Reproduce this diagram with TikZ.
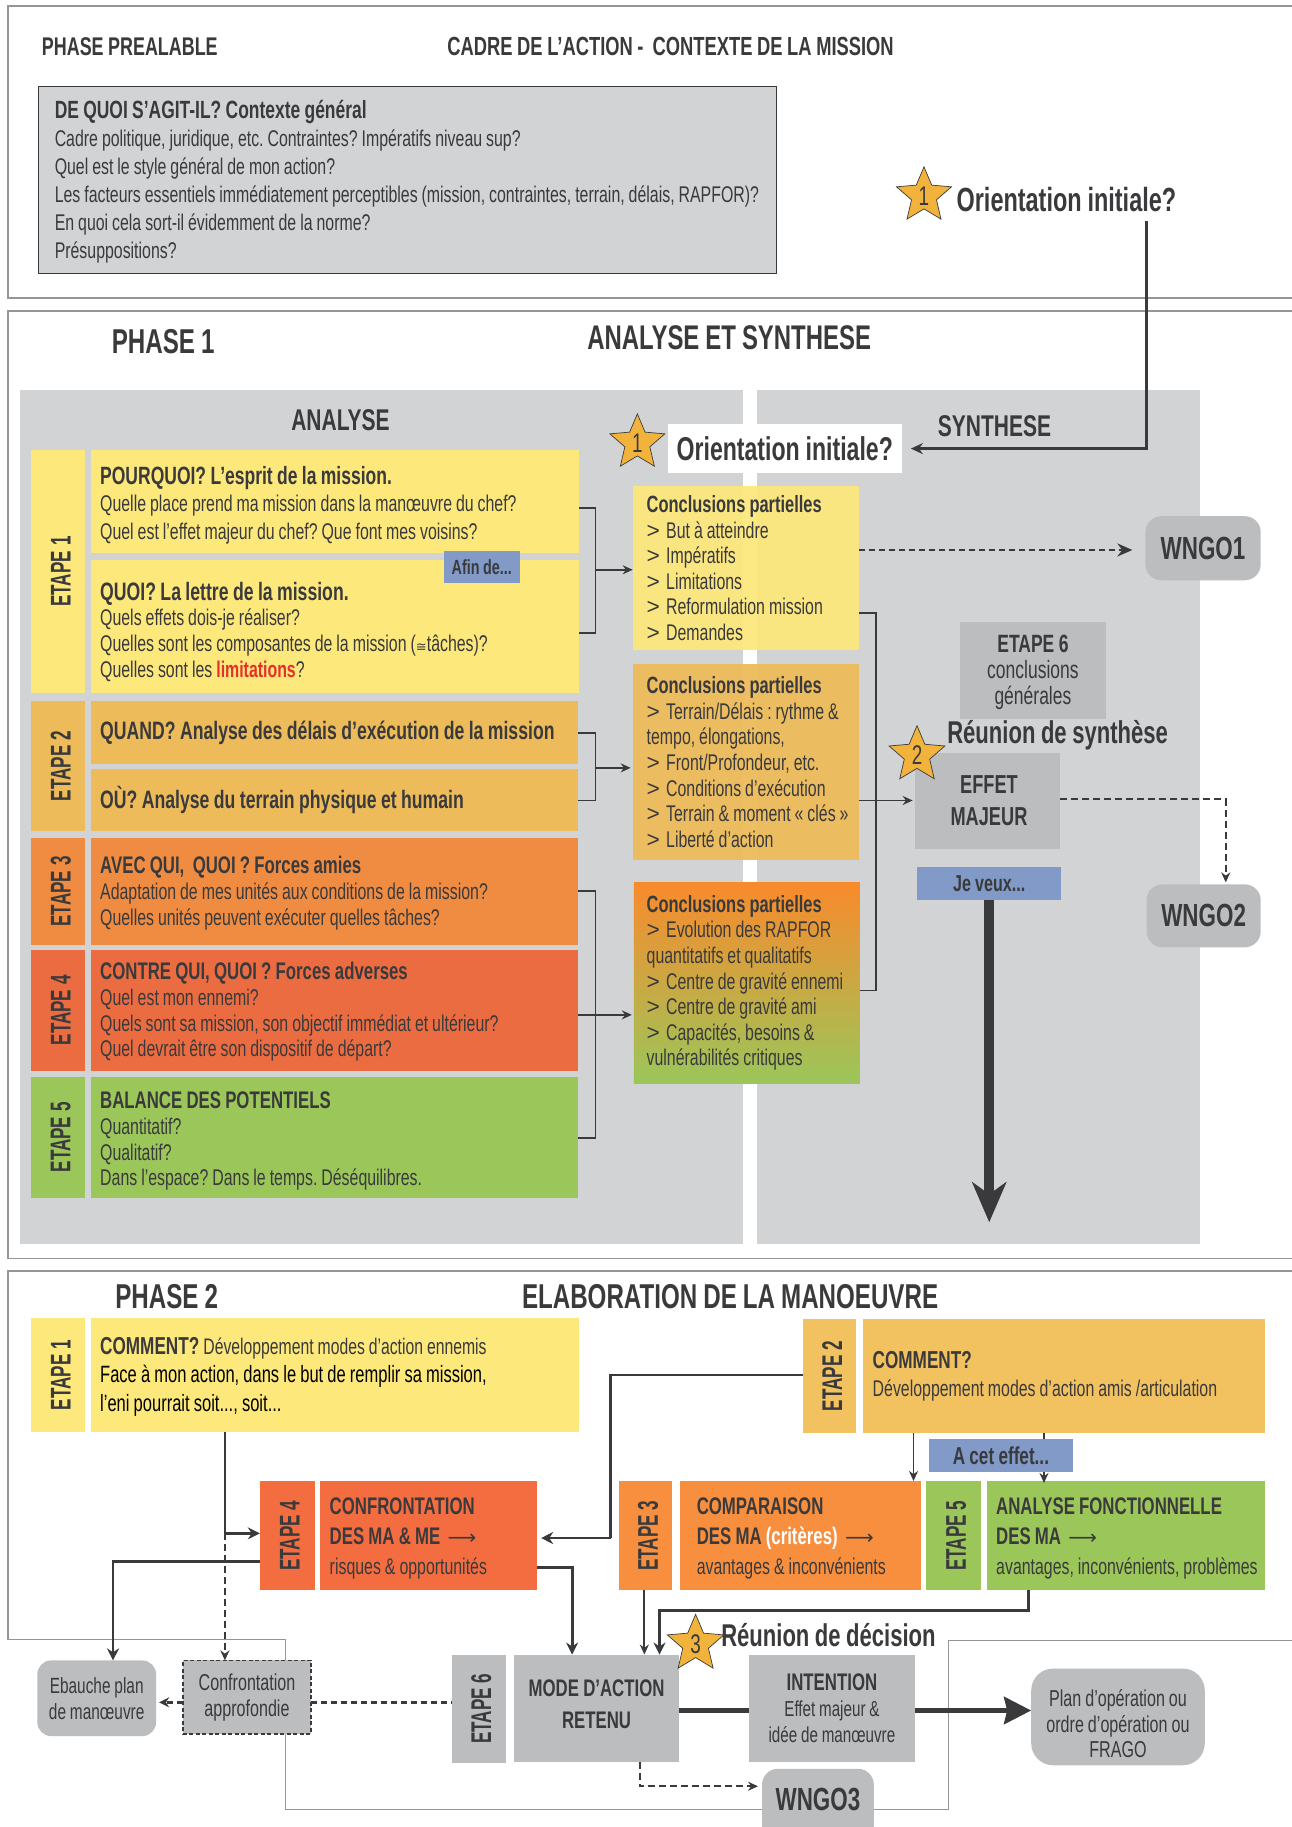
\documentclass[tikz,border=0pt]{standalone}
\usepackage{fontspec}
\setmainfont{Liberation Sans}[FakeStretch=0.70]
\newfontfamily\djv{DejaVu Sans}
\newfontfamily\lbr{Liberation Sans}
\newfontfamily\etf{Liberation Sans}[FakeStretch=0.60]
\usetikzlibrary{arrows.meta,shapes.geometric,calc}
\definecolor{cyel}{HTML}{FDE87C}
\definecolor{camb}{HTML}{EDBB59}
\definecolor{camc}{HTML}{F2C261}
\definecolor{cora}{HTML}{EF8C41}
\definecolor{corb}{HTML}{F78F3F}
\definecolor{cred}{HTML}{EC6C41}
\definecolor{creb}{HTML}{F46D41}
\definecolor{cgre}{HTML}{9BC65A}
\definecolor{cbg}{HTML}{D1D3D4}
\definecolor{cbox}{HTML}{BBBDBF}
\definecolor{cblu}{HTML}{829AC8}
\definecolor{cfra}{HTML}{939598}
\definecolor{ctxt}{HTML}{3A3A3C}
\definecolor{cstar}{HTML}{F2B33D}
\definecolor{climr}{HTML}{E4312B}
\frenchspacing
\newcommand\unitk{1.16516}
\newcommand\fs[2]{\fontsize{#1}{#2}\selectfont\spaceskip=0.175em\xspaceskip=0.175em\relax}
\newcommand\gtm{\makebox[19.5pt][l]{\lbr\textgreater}}
\newcommand\vsh[1]{\rule{0pt}{\dimexpr17pt+#1pt\relax}}
% name x1 y1 x2 y2 style pad text : left aligned
\newcommand\bx[8]{%
  \pgfmathsetmacro\cxx{(#2+#4)/2}\pgfmathsetmacro\cyy{(#3+#5)/2}%
  \pgfmathsetmacro\www{(#4-#2)*\unitk}\pgfmathsetmacro\hhh{(#5-#3)*\unitk}%
  \pgfmathsetmacro\ppp{#7*\unitk}%
  \node[boxn,#6,minimum width=\www pt,minimum height=\hhh pt,text width=\www pt,align=left] (#1) at (\cxx,\cyy) {{\leftskip=\ppp pt\relax\spaceskip=0.175em\xspaceskip=0.175em\relax #8\par}};}
% centred
\newcommand\cbx[7]{%
  \pgfmathsetmacro\cxx{(#2+#4)/2}\pgfmathsetmacro\cyy{(#3+#5)/2}%
  \pgfmathsetmacro\www{(#4-#2)*\unitk}\pgfmathsetmacro\hhh{(#5-#3)*\unitk}%
  \node[boxn,#6,minimum width=\www pt,minimum height=\hhh pt,text width=\www pt,align=center] (#1) at (\cxx,\cyy) {\spaceskip=0.175em\xspaceskip=0.175em\relax #7};}
\newcommand\etp[7]{\cbx{#1}{#2}{#3}{#4}{#5}{fill=#6,font=\etf\fs{28.5}{28}\bfseries}{\hspace*{5pt}\rotatebox{90}{#7}}}
\newcommand\arw{{\fontspec{DejaVu Sans}\fontsize{20}{20}\selectfont\,⟶}}
\tikzset{
  boxn/.style={inner sep=0pt,outer sep=0pt,text=ctxt,font=\fs{22.7}{25.6}},
  lab/.style={inner sep=0pt,outer sep=0pt,text=ctxt,anchor=west},
  frm/.style={draw=cfra,line width=1.6pt},
  con/.style={draw=ctxt,line width=1.8pt},
  conk/.style={draw=ctxt,line width=2.8pt},
  arr/.style={con,-{Stealth[length=10pt,width=9pt]}},
  arrk/.style={conk,-{Stealth[length=12pt,width=12pt]}},
  dsh/.style={draw=ctxt,line width=2.6pt,dash pattern=on 6pt off 4pt},
  dsht/.style={draw=ctxt,line width=1.8pt,dash pattern=on 7pt off 4pt},
  stn/.style={star,star points=5,star point ratio=2.2,fill=cstar,draw=ctxt,line width=.7pt,minimum size=45pt,inner sep=0pt,text=ctxt,font=\fs{27}{27}},
  wng/.style={fill=cbox,rounded corners=16pt,font=\fs{32}{32}\bfseries}
}
\begin{document}
\begin{tikzpicture}[x=1.16516pt,y=-1.16516pt]
\useasboundingbox (0,0) rectangle (1108,1568);
\fill[white] (0,0) rectangle (1108,1568);
% frames
\draw[frm] (1120,5) -- (7,5) -- (7,256) -- (1120,256);
\draw[frm] (1120,267) -- (7,267) -- (7,1080) -- (1120,1080);
\draw[frm] (1120,1091) -- (7,1091) -- (7,1407) -- (245,1407) -- (245,1553) -- (814,1553) -- (814,1408) -- (1120,1408);
% grey panels
\fill[cbg] (17,335) rectangle (638,1068);
\fill[cbg] (650,335) rectangle (1030,1068);
% titles
\node[lab,font=\fs{25.6}{26}\bfseries] (tprea) at (36,40) {PHASE PREALABLE};
\node[lab,font=\fs{26.2}{26}\bfseries] (tcadre) at (384,40) {CADRE DE L’ACTION -\ \ CONTEXTE DE LA MISSION};
\node[lab,font=\fs{34.5}{34}\bfseries] (tph1) at (96,293) {PHASE 1};
\node[lab,font=\fs{34.2}{34}\bfseries] (tana) at (504,290) {ANALYSE ET SYNTHESE};
\node[lab,font=\fs{30}{30}\bfseries] (tanalyse) at (250,361) {ANALYSE};
\node[lab,font=\fs{30}{30}\bfseries] (tsyn) at (805,366) {SYNTHESE};
\node[lab,font=\fs{34.5}{34}\bfseries] (tph2) at (99,1113) {PHASE 2};
\node[lab,font=\fs{34.5}{34}\bfseries] (telab) at (448,1113) {ELABORATION DE LA MANOEUVRE};
% context
\bx{ctx}{33}{74}{666}{235}{fill=cbg,draw=ctxt,line width=.9pt,font=\fs{22.7}{28}}{14}{\vsh{4}\textbf{\fs{24.9}{28}DE QUOI S’AGIT-IL? Contexte général}\\
Cadre politique, juridique, etc. Contraintes? Impératifs niveau sup?\\
Quel est le style général de mon action?\\
Les facteurs essentiels immédiatement perceptibles (mission, contraintes, terrain, délais, RAPFOR)?\\
En quoi cela sort-il évidemment de la norme?\\
Présuppositions?}
\node[stn] (st1a) at (793,168) {1};
\node[lab,font=\fs{33.5}{30}\bfseries] (orienta) at (821,171) {Orientation initiale?};
% phase 1
\cbx{orientb}{573}{364}{774}{406}{fill=white,font=\fs{33}{30}\bfseries}{Orientation initiale?}
\node[stn] (st1b) at (547,380) {1};
\etp{e1}{27}{386}{73}{595}{cyel}{ETAPE 1}
\bx{pourquoi}{78}{386}{497}{475}{fill=cyel,font=\fs{22.7}{27.5}}{8}{\vsh{8}\textbf{\fs{25}{28}POURQUOI? L’esprit de la mission.}\\
Quelle place prend ma mission dans la manœuvre du chef?\\
Quel est l’effet majeur du chef? Que font mes voisins?}
\bx{quoi}{78}{481}{497}{595}{fill=cyel}{8}{\vsh{11}\textbf{\fs{25.2}{25.6}QUOI? La lettre de la mission.}\\
Quels effets dois-je réaliser?\\
Quelles sont les composantes de la mission ({\djv\fontsize{13}{13}\selectfont ≅}tâches)?\\
Quelles sont les \textcolor{climr}{\textbf{limitations}}?}
\cbx{afin}{381}{473}{446}{500}{fill=cblu,font=\fs{20.5}{20}\bfseries}{Afin de...}
\etp{e2}{27}{602}{73}{713}{camb}{ETAPE 2}
\bx{quand}{78}{602}{496}{656}{fill=camb}{8}{\textbf{\fs{25.2}{25.6}QUAND? Analyse des délais d’exécution de la mission}}
\bx{ou}{78}{660}{496}{713}{fill=camb}{8}{\textbf{\fs{25.2}{25.6}OÙ? Analyse du terrain physique et humain}}
\etp{e3}{27}{719}{73}{811}{cora}{ETAPE 3}
\bx{avec}{78}{719}{496}{811}{fill=cora}{8}{\vsh{4}\textbf{\fs{24}{25.6}AVEC QUI,\ \ QUOI ? Forces amies}\\
Adaptation de mes unités aux conditions de la mission?\\
Quelles unités peuvent exécuter quelles tâches?}
\etp{e4}{27}{815}{73}{919}{cred}{ETAPE 4}
\bx{contre}{78}{815}{496}{919}{fill=cred}{8}{\vsh{4}\textbf{\fs{24}{25.6}CONTRE QUI, QUOI ? Forces adverses}\\
Quel est mon ennemi?\\
Quels sont sa mission, son objectif immédiat et ultérieur?\\
Quel devrait être son dispositif de départ?}
\etp{e5}{27}{924}{73}{1028}{cgre}{ETAPE 5}
\bx{bal}{78}{924}{496}{1028}{fill=cgre}{8}{\vsh{8}\textbf{\fs{24}{25.6}BALANCE DES POTENTIELS}\\
Quantitatif?\\
Qualitatif?\\
Dans l’espace? Dans le temps. Déséquilibres.}
\bx{c1}{543}{417}{737}{558}{fill=cyel,fill opacity=.94,text opacity=1}{12}{\textbf{\fs{23.5}{25.6}Conclusions partielles}\\
\gtm But à atteindre\\
\gtm Impératifs\\
\gtm Limitations\\
\gtm Reformulation mission\\
\gtm Demandes}
\bx{c2}{543}{570}{737}{738}{fill=camb,fill opacity=.94,text opacity=1}{12}{\textbf{\fs{23.5}{25.6}Conclusions partielles}\\
\gtm Terrain/Délais : rythme \&\\
tempo, élongations,\\
\gtm Front/Profondeur, etc.\\
\gtm Conditions d’exécution\\
\gtm Terrain \& moment « clés »\\
\gtm Liberté d’action}
\bx{c3}{544}{757}{738}{930}{top color=corb!70!orange,middle color=cred,bottom color=cgre}{11}{\textbf{\fs{23.5}{25.6}Conclusions partielles}\\
\gtm Evolution des RAPFOR\\
quantitatifs et qualitatifs\\
\gtm Centre de gravité ennemi\\
\gtm Centre de gravité ami\\
\gtm Capacités, besoins \&\\
vulnérabilités critiques}
\cbx{e6a}{824}{534}{949}{617}{fill=cbox,font=\fs{25}{25.6}}{\vsh{4}\textbf{\fs{25}{25.6}ETAPE 6}\\conclusions\\générales}
\cbx{effet}{785}{646}{910}{729}{fill=cbox,font=\fs{26}{32}\bfseries}{\hspace*{3pt}EFFET\\\hspace*{3pt}MAJEUR}
\node[lab,font=\fs{31.5}{28}\bfseries] (rsyn) at (813,631) {Réunion de synthèse};
\node[stn] (st2) at (787,648) {2};
\cbx{jeveux}{787}{744}{911}{772}{fill=cblu,font=\fs{23}{24}\bfseries}{Je veux...}
\cbx{w1}{983}{443}{1082}{498}{wng}{WNGO1}
\cbx{w2}{984}{759}{1082}{813}{wng}{WNGO2}
% phase 1 connectors
\coordinate (o1) at (984,190);
\draw[conk,-{Stealth[length=12pt,width=11pt]}] (o1) -- (o1 |- orientb.east) -- ([xshift=9pt]orientb.east);
\coordinate (b1) at (511,489);
\draw[con] (pourquoi.east |- 0,436) -- (b1 |- 0,436) -- (b1 |- 0,543) -- (quoi.east |- 0,543);
\draw[arr] (b1) -- (c1.west |- b1);
\coordinate (b2) at (511,659);
\draw[con] (quand.east |- 0,629) -- (b2 |- 0,629) -- (b2 |- 0,687) -- (ou.east |- 0,687);
\draw[arr] (b2) -- ([xshift=-2pt]c2.west |- b2);
\coordinate (b3) at (511,871);
\draw[con] (avec.east |- 0,765) -- (b3 |- 0,765) -- (b3 |- 0,977) -- (bal.east |- 0,977);
\draw[arr] (contre.east |- b3) -- ([xshift=-2pt]c3.west |- b3);
\coordinate (b4) at (752,687);
\draw[con] (c1.east |- 0,526) -- (b4 |- 0,526) -- (b4 |- 0,850) -- (c3.east |- 0,850);
\draw[arr] (c2.east |- b4) -- ([xshift=-2pt]effet.west |- b4);
\draw[dsh,-{Stealth[length=15pt,width=13pt]}] (c1.east |- 0,472) -- ([xshift=-13pt]w1.west |- 0,472);
\coordinate (d2) at (1052,686);
\draw[dsht,-{Stealth[length=10pt,width=9pt]}] (effet.east |- d2) -- (d2) -- ([yshift=2pt]w2.north -| d2);
\coordinate (bigend) at (849,1049);
\draw[draw=ctxt,line width=10pt,-{Stealth[length=40pt,width=34pt,inset=12pt]}] (jeveux.south) -- (bigend);
% phase 2
\etp{p1}{27}{1131}{73}{1229}{cyel}{ETAPE 1}
\bx{p1b}{78}{1131}{497}{1229}{fill=cyel,font=\fs{23.6}{28.5}}{8}{\vsh{4}\textbf{\fs{24.5}{28}COMMENT?} {\fs{22.5}{28}Développement modes d’action ennemis}\\
\textcolor{black}{Face à mon action, dans le but de remplir sa mission,}\\
\textcolor{black}{l’eni pourrait soit..., soit...}}
\etp{p2}{689}{1132}{735}{1230}{camc}{ETAPE 2}
\bx{p2b}{741}{1132}{1086}{1230}{fill=camc,font=\fs{22.7}{28}}{8}{\textbf{\fs{24.5}{28}COMMENT?}\\Développement modes d’action amis /articulation}
\cbx{acet}{797}{1235}{921}{1263}{fill=cblu,font=\fs{24.5}{24}\bfseries}{A cet effet...}
\etp{p4}{223}{1271}{270}{1365}{creb}{ETAPE 4}
\bx{p4b}{275}{1271}{461}{1365}{fill=creb,font=\fs{22.7}{30}}{8}{\vsh{5}\textbf{\fs{24}{28}CONFRONTATION}\\\textbf{\fs{24}{28}DES MA \& ME} \arw\\risques \& opportunités}
\etp{p3}{531}{1271}{577}{1365}{corb}{ETAPE 3}
\bx{p3b}{584}{1271}{790}{1365}{fill=corb,font=\fs{22.7}{30}}{14}{\vsh{5}\textbf{\fs{24}{28}COMPARAISON}\\\textbf{\fs{24}{28}DES MA \textcolor{white}{(critères)}} \arw\\avantages \& inconvénients}
\etp{p5}{795}{1271}{842}{1365}{cgre}{ETAPE 5}
\bx{p5b}{847}{1271}{1086}{1365}{fill=cgre,font=\fs{22.7}{30}}{8}{\vsh{5}\textbf{\fs{24}{28}ANALYSE FONCTIONNELLE}\\\textbf{\fs{24}{28}DES MA} \arw\\avantages, inconvénients, problèmes}
\etp{p6}{388}{1420}{434}{1513}{cbox}{ETAPE 6}
\cbx{mode}{441}{1420}{583}{1512}{fill=cbox,font=\fs{24}{32}\bfseries}{MODE D’ACTION\\RETENU\rule[-8pt]{0pt}{1pt}}
\cbx{inten}{643}{1420}{785}{1512}{fill=cbox,font=\fs{21.7}{25.6}}{\textbf{\fs{24}{28}INTENTION}\\Effet majeur \&\\idée de manœuvre}
\cbx{ebau}{32}{1425}{134}{1490}{fill=cbox,rounded corners=14pt,font=\fs{22}{26}}{Ebauche plan\\de manœuvre}
\cbx{conf}{157}{1425}{267}{1488}{fill=cbox,draw=ctxt,line width=1.8pt,dash pattern=on 4pt off 2.5pt,font=\fs{23}{26}}{Confrontation\\approfondie}
\cbx{plan}{885}{1432}{1034}{1515}{fill=cbox,rounded corners=22pt,font=\fs{23}{25.6}}{\vsh{14}Plan d’opération ou\\ordre d’opération ou\\FRAGO}
\cbx{w3}{654}{1518}{750}{1580}{wng}{\raisebox{12pt}{WNGO3}}
\node[lab,font=\fs{31.5}{28}\bfseries] (rdec) at (619,1403) {Réunion de décision};
\node[stn] (st3) at (597,1411) {3};
% phase 2 connectors
\coordinate (k1) at (193,1316);
\draw[con] (p1b.south -| k1) -- (k1);
\draw[arrk] (k1) -- (p4.west |- k1);
\draw[dsht,-{Stealth[length=10pt,width=9pt]}] (k1) -- (conf.north -| k1);
\coordinate (k2) at (97,1340);
\draw[arrk] (p4.west |- k2) -- (k2) -- (ebau.north -| k2);
\coordinate (k11) at (0,1461);
\draw[dsh,-{Stealth[length=10pt,width=10pt]}] (conf.west |- k11) -- ([xshift=3pt]ebau.east |- k11);
\draw[dsh] (conf.east |- k11) -- (p6.west |- k11);
\coordinate (k3) at (524,1320);
\draw[conk] (p2.west |- 0,1180) -- (k3 |- 0,1180) -- (k3);
\draw[arrk] (k3) -- ([xshift=4pt]p4b.east |- k3);
\coordinate (k4) at (491,1345);
\draw[arrk] (p4b.east |- k4) -- (k4) -- (mode.north -| k4);
\coordinate (k5) at (553,1400);
\draw[arr] (p3.south -| k5) -- (mode.north -| k5);
\coordinate (k6) at (883,1382);
\coordinate (k7) at (566,1382);
\draw[arrk] (p5b.south -| k6) -- (k6) -- (k7) -- (mode.north -| k7);
\coordinate (k8) at (784,1240);
\draw[arr] (p2b.south -| k8) -- (p3b.north -| k8);
\coordinate (k9) at (896,1240);
\draw[con] (p2b.south -| k9) -- (acet.north -| k9);
\draw[arr] (acet.south -| k9) -- ([yshift=-2pt]p5b.north -| k9);
\draw[draw=ctxt,line width=5.5pt] (mode.east |- 0,1468) -- (inten.west |- 0,1468);
\draw[draw=ctxt,line width=5.5pt,-{Stealth[length=27pt,width=27pt,inset=3pt]}] (inten.east |- 0,1468) -- (plan.west |- 0,1468);
\coordinate (k10) at (549,1533);
\draw[dsht,-{Stealth[length=10pt,width=9pt]}] (mode.south -| k10) -- (k10) -- ([xshift=-4pt]w3.west |- k10);
\end{tikzpicture}
\end{document}
